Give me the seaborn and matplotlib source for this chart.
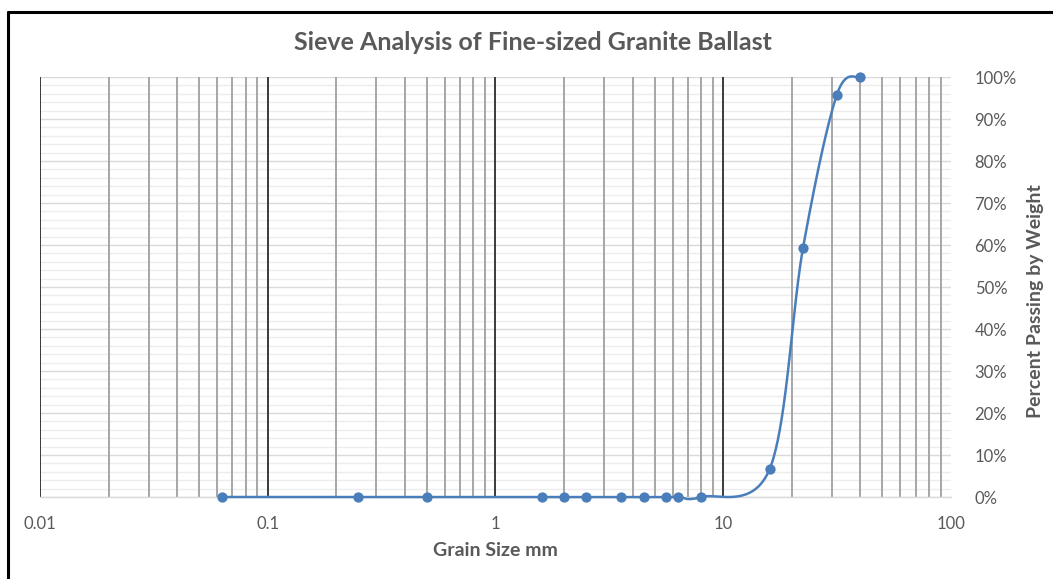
import numpy as np
import pandas as pd
import matplotlib
matplotlib.use("Agg")
import matplotlib.pyplot as plt
import matplotlib.ticker as mticker
from matplotlib.lines import Line2D
import seaborn as sns

# ---- data ----
grain_size_mm = [0.063, 0.25, 0.5, 1.6, 2.0, 2.5, 3.55, 4.5, 5.6, 6.3, 8.0, 16.0, 22.4, 31.5, 40.0]
percent_passing = [0, 0, 0, 0, 0, 0, 0, 0, 0, 0, 0, 6.7, 59.3, 95.7, 100]
x_tick_values = [0.01, 0.1, 1, 10, 100]
x_tick_labels = ["0.01", "0.1", "1", "10", "100"]
y_tick_values = [0, 10, 20, 30, 40, 50, 60, 70, 80, 90, 100]
y_tick_labels = [f"{v}%" for v in y_tick_values]

title = "Sieve Analysis of Fine-sized Granite Ballast"
x_label = "Grain Size mm"
y_label = "Percent Passing by Weight"

sns.set_style("white")
plt.rcParams["font.family"] = ["Lato", "DejaVu Sans"]

W, H = 1053, 579
fig = plt.figure(figsize=(W / 100, H / 100), dpi=100)
ax = fig.add_axes([40 / W, 1 - 497 / H, (951 - 40) / W, (497 - 77) / H])

blue = "#4a7ebb"
grey_txt = "#595959"

# smoothed line (Catmull-Rom / Bezier in display-like coordinates)
u = np.log10(grain_size_mm) * 227.75
v = np.array(percent_passing) * 4.2
P = np.column_stack([u, v])
n = len(P)
curve = []
for i in range(n - 1):
    p0 = P[i - 1] if i > 0 else P[i]
    p1 = P[i]
    p2 = P[i + 1]
    p3 = P[i + 2] if i + 2 < n else P[i + 1]
    c1 = p1 + (p2 - p0) / 6.0
    c2 = p2 - (p3 - p1) / 6.0
    t = np.linspace(0, 1, 40)[:, None]
    seg = (1 - t) ** 3 * p1 + 3 * (1 - t) ** 2 * t * c1 + 3 * (1 - t) * t ** 2 * c2 + t ** 3 * p2
    curve.append(seg if i == 0 else seg[1:])
curve = np.vstack(curve)
curve_df = pd.DataFrame({"x": 10 ** (curve[:, 0] / 227.75), "y": curve[:, 1] / 4.2})
pts_df = pd.DataFrame({"x": grain_size_mm, "y": percent_passing})

ax.set_xscale("log")
ax.set_xlim(0.01, 100)
ax.set_ylim(0, 100)

# horizontal gridlines (behind)
ax.yaxis.set_major_locator(mticker.FixedLocator(y_tick_values))
ax.yaxis.set_minor_locator(mticker.MultipleLocator(2))
ax.grid(True, which="minor", axis="y", color="#ededed", linewidth=1.0, zorder=0)
ax.grid(True, which="major", axis="y", color="#d9d9d9", linewidth=1.0, zorder=0)
ax.grid(False, axis="x", which="both")
ax.set_axisbelow(True)

# vertical gridlines above the horizontal ones
minor_loc = mticker.LogLocator(base=10, subs=np.arange(2, 10), numticks=20)
minor_x = [m for m in minor_loc.tick_values(0.01, 100) if 0.01 < m < 100]
ax.vlines(minor_x, 0, 100, colors="#a6a6a6", linewidth=1.4, zorder=1)
ax.vlines(x_tick_values[:-1], 0, 100, colors="#3a3a3a", linewidth=1.4, zorder=1)

sns.lineplot(data=curve_df, x="x", y="y", sort=False, estimator=None, ax=ax,
             color=blue, linewidth=1.8, clip_on=False, zorder=3)
sns.scatterplot(data=pts_df, x="x", y="y", ax=ax, color=blue, s=55,
                edgecolor=blue, linewidth=0, clip_on=False, zorder=4)

for s in ["top", "left", "right"]:
    ax.spines[s].set_visible(False)
ax.spines["bottom"].set_color("#d9d9d9")
ax.spines["bottom"].set_linewidth(1.0)

ax.set_xticks(x_tick_values)
ax.set_xticklabels(x_tick_labels)
ax.xaxis.set_minor_locator(mticker.NullLocator())
ax.yaxis.tick_right()
ax.set_yticks(y_tick_values)
ax.set_yticklabels(y_tick_labels)
ax.tick_params(axis="both", which="both", length=0, labelsize=12, labelcolor=grey_txt)
ax.tick_params(axis="x", pad=14)
ax.tick_params(axis="y", pad=17)
for lbl in ax.get_yticklabels():
    lbl.set_horizontalalignment("left")

ax.set_xlabel("")
ax.set_ylabel("")
fig.text(495 / W, 1 - 550 / H, x_label, ha="center", va="center",
         fontsize=14, fontweight="bold", color=grey_txt)
fig.text(1036 / W, 1 - 301 / H, y_label, rotation=90, ha="center", va="center",
         fontsize=14, fontweight="bold", color=grey_txt)
fig.text(533 / W, 1 - 42 / H, title, ha="center", va="center",
         fontsize=18, fontweight="bold", color=grey_txt)

# outer chart frame (left and top edges visible)
fig.add_artist(Line2D([8 / W, 8 / W], [0, 1 - 12 / H], transform=fig.transFigure, color="black", linewidth=2.2))
fig.add_artist(Line2D([8 / W, 1], [1 - 12 / H, 1 - 12 / H], transform=fig.transFigure, color="black", linewidth=2.2))

fig.savefig("out.png", dpi=100)
